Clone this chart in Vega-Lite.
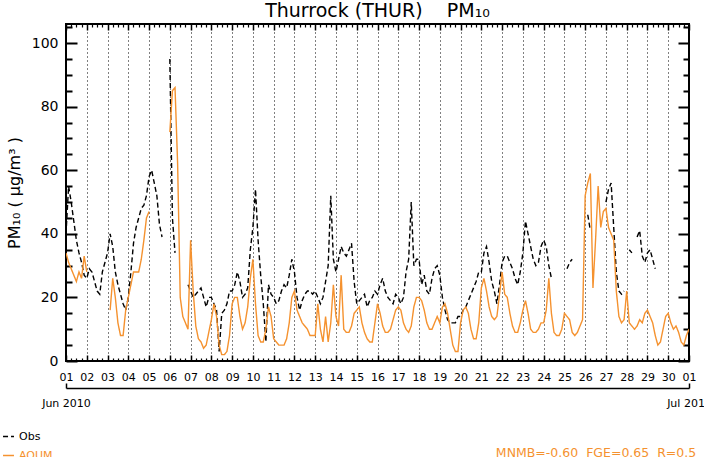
{
"$schema": "https://vega.github.io/schema/vega-lite/v6.json",
"width": 623, "height": 337,
"autosize": {"type": "none"},
"padding": {"left": 66, "top": 24, "right": 15, "bottom": 96},
"background": "white",
"config": {"view": {"stroke": "black", "strokeWidth": 2}, "font": "DejaVu Sans"},
"title": {"text": "Thurrock (THUR)\u00a0\u00a0\u00a0\u00a0PM₁₀", "fontSize": 19, "fontWeight": "normal", "color": "black", "frame": "group", "anchor": "middle", "offset": 3},
"data": {"values": [
{"d":1,"Obs":40,"AQUM":34},{"d":1.125,"Obs":55,"AQUM":31},{"d":1.25,"Obs":50,"AQUM":29},{"d":1.375,"Obs":44,"AQUM":27},{"d":1.5,"Obs":38,"AQUM":25},{"d":1.625,"Obs":34,"AQUM":28},{"d":1.75,"Obs":31,"AQUM":26},{"d":1.875,"Obs":27,"AQUM":33},
{"d":2,"Obs":26,"AQUM":28},{"d":2.125,"Obs":29,"AQUM":null},{"d":2.25,"Obs":28,"AQUM":null},{"d":2.375,"Obs":25,"AQUM":null},{"d":2.5,"Obs":22,"AQUM":null},{"d":2.625,"Obs":21,"AQUM":null},{"d":2.75,"Obs":28,"AQUM":null},{"d":2.875,"Obs":31,"AQUM":null},
{"d":3,"Obs":34,"AQUM":null},{"d":3.125,"Obs":40,"AQUM":16},{"d":3.25,"Obs":36,"AQUM":26},{"d":3.375,"Obs":28,"AQUM":20},{"d":3.5,"Obs":24,"AQUM":12},{"d":3.625,"Obs":21,"AQUM":8},{"d":3.75,"Obs":18,"AQUM":8},{"d":3.875,"Obs":16,"AQUM":16},
{"d":4,"Obs":20,"AQUM":20},{"d":4.125,"Obs":28,"AQUM":24},{"d":4.25,"Obs":37,"AQUM":28},{"d":4.375,"Obs":42,"AQUM":28},{"d":4.5,"Obs":45,"AQUM":28},{"d":4.625,"Obs":48,"AQUM":32},{"d":4.75,"Obs":49,"AQUM":38},{"d":4.875,"Obs":52,"AQUM":45},
{"d":5,"Obs":58,"AQUM":47},{"d":5.125,"Obs":60,"AQUM":null},{"d":5.25,"Obs":56,"AQUM":null},{"d":5.375,"Obs":52,"AQUM":null},{"d":5.5,"Obs":43,"AQUM":null},{"d":5.625,"Obs":39,"AQUM":null},{"d":5.75,"Obs":null,"AQUM":null},{"d":5.875,"Obs":null,"AQUM":null},
{"d":6,"Obs":95,"AQUM":72},{"d":6.125,"Obs":45,"AQUM":85},{"d":6.25,"Obs":34,"AQUM":86},{"d":6.375,"Obs":null,"AQUM":62},{"d":6.5,"Obs":null,"AQUM":20},{"d":6.625,"Obs":null,"AQUM":14},{"d":6.75,"Obs":null,"AQUM":12},{"d":6.875,"Obs":24,"AQUM":10},
{"d":7,"Obs":22,"AQUM":38},{"d":7.125,"Obs":20,"AQUM":22},{"d":7.25,"Obs":21,"AQUM":11},{"d":7.375,"Obs":22,"AQUM":7},{"d":7.5,"Obs":23,"AQUM":6},{"d":7.625,"Obs":20,"AQUM":4},{"d":7.75,"Obs":17,"AQUM":5},{"d":7.875,"Obs":20,"AQUM":9},
{"d":8,"Obs":20,"AQUM":13},{"d":8.125,"Obs":18,"AQUM":18},{"d":8.25,"Obs":16,"AQUM":14},{"d":8.375,"Obs":3,"AQUM":5},{"d":8.5,"Obs":15,"AQUM":2},{"d":8.625,"Obs":16,"AQUM":2},{"d":8.75,"Obs":18,"AQUM":3},{"d":8.875,"Obs":22,"AQUM":8},
{"d":9,"Obs":22,"AQUM":18},{"d":9.125,"Obs":24,"AQUM":20},{"d":9.25,"Obs":28,"AQUM":20},{"d":9.375,"Obs":25,"AQUM":14},{"d":9.5,"Obs":20,"AQUM":10},{"d":9.625,"Obs":21,"AQUM":12},{"d":9.75,"Obs":23,"AQUM":17},{"d":9.875,"Obs":35,"AQUM":26},
{"d":10,"Obs":42,"AQUM":32},{"d":10.125,"Obs":54,"AQUM":18},{"d":10.25,"Obs":38,"AQUM":8},{"d":10.375,"Obs":27,"AQUM":6},{"d":10.5,"Obs":18,"AQUM":6},{"d":10.625,"Obs":6,"AQUM":10},{"d":10.75,"Obs":24,"AQUM":17},{"d":10.875,"Obs":21,"AQUM":14},
{"d":11,"Obs":20,"AQUM":7},{"d":11.125,"Obs":18,"AQUM":6},{"d":11.25,"Obs":19,"AQUM":5},{"d":11.375,"Obs":22,"AQUM":5},{"d":11.5,"Obs":24,"AQUM":5},{"d":11.625,"Obs":23,"AQUM":7},{"d":11.75,"Obs":27,"AQUM":12},{"d":11.875,"Obs":32,"AQUM":20},
{"d":12,"Obs":28,"AQUM":22},{"d":12.125,"Obs":20,"AQUM":16},{"d":12.25,"Obs":16,"AQUM":14},{"d":12.375,"Obs":19,"AQUM":12},{"d":12.5,"Obs":21,"AQUM":11},{"d":12.625,"Obs":22,"AQUM":10},{"d":12.75,"Obs":22,"AQUM":8},{"d":12.875,"Obs":21,"AQUM":8},
{"d":13,"Obs":22,"AQUM":8},{"d":13.125,"Obs":20,"AQUM":18},{"d":13.25,"Obs":18,"AQUM":10},{"d":13.375,"Obs":20,"AQUM":6},{"d":13.5,"Obs":25,"AQUM":14},{"d":13.625,"Obs":30,"AQUM":6},{"d":13.75,"Obs":52,"AQUM":12},{"d":13.875,"Obs":32,"AQUM":24},
{"d":14,"Obs":28,"AQUM":14},{"d":14.125,"Obs":32,"AQUM":11},{"d":14.25,"Obs":36,"AQUM":27},{"d":14.375,"Obs":34,"AQUM":10},{"d":14.5,"Obs":33,"AQUM":9},{"d":14.625,"Obs":35,"AQUM":9},{"d":14.75,"Obs":37,"AQUM":11},{"d":14.875,"Obs":25,"AQUM":15},
{"d":15,"Obs":18,"AQUM":16},{"d":15.125,"Obs":19,"AQUM":17},{"d":15.25,"Obs":20,"AQUM":12},{"d":15.375,"Obs":21,"AQUM":9},{"d":15.5,"Obs":17,"AQUM":7},{"d":15.625,"Obs":19,"AQUM":6},{"d":15.75,"Obs":20,"AQUM":6},{"d":15.875,"Obs":22,"AQUM":12},
{"d":16,"Obs":21,"AQUM":18},{"d":16.125,"Obs":24,"AQUM":15},{"d":16.25,"Obs":26,"AQUM":11},{"d":16.375,"Obs":22,"AQUM":9},{"d":16.5,"Obs":20,"AQUM":9},{"d":16.625,"Obs":19,"AQUM":10},{"d":16.75,"Obs":18,"AQUM":13},{"d":16.875,"Obs":21,"AQUM":16},
{"d":17,"Obs":20,"AQUM":17},{"d":17.125,"Obs":18,"AQUM":16},{"d":17.25,"Obs":20,"AQUM":12},{"d":17.375,"Obs":28,"AQUM":10},{"d":17.5,"Obs":32,"AQUM":9},{"d":17.625,"Obs":50,"AQUM":11},{"d":17.75,"Obs":30,"AQUM":17},{"d":17.875,"Obs":32,"AQUM":20},
{"d":18,"Obs":32,"AQUM":20},{"d":18.125,"Obs":24,"AQUM":19},{"d":18.25,"Obs":27,"AQUM":16},{"d":18.375,"Obs":22,"AQUM":12},{"d":18.5,"Obs":21,"AQUM":10},{"d":18.625,"Obs":26,"AQUM":10},{"d":18.75,"Obs":29,"AQUM":12},{"d":18.875,"Obs":30,"AQUM":14},
{"d":19,"Obs":27,"AQUM":12},{"d":19.125,"Obs":20,"AQUM":17},{"d":19.25,"Obs":16,"AQUM":18},{"d":19.375,"Obs":13,"AQUM":15},{"d":19.5,"Obs":12,"AQUM":10},{"d":19.625,"Obs":12,"AQUM":5},{"d":19.75,"Obs":12,"AQUM":3},{"d":19.875,"Obs":14,"AQUM":3},
{"d":20,"Obs":14,"AQUM":12},{"d":20.125,"Obs":16,"AQUM":16},{"d":20.25,"Obs":17,"AQUM":17},{"d":20.375,"Obs":19,"AQUM":15},{"d":20.5,"Obs":21,"AQUM":10},{"d":20.625,"Obs":23,"AQUM":7},{"d":20.75,"Obs":25,"AQUM":7},{"d":20.875,"Obs":28,"AQUM":12},
{"d":21,"Obs":28,"AQUM":23},{"d":21.125,"Obs":34,"AQUM":26},{"d":21.25,"Obs":36,"AQUM":22},{"d":21.375,"Obs":31,"AQUM":17},{"d":21.5,"Obs":25,"AQUM":14},{"d":21.625,"Obs":22,"AQUM":13},{"d":21.75,"Obs":18,"AQUM":14},{"d":21.875,"Obs":24,"AQUM":21},
{"d":22,"Obs":31,"AQUM":28},{"d":22.125,"Obs":33,"AQUM":21},{"d":22.25,"Obs":33,"AQUM":20},{"d":22.375,"Obs":31,"AQUM":15},{"d":22.5,"Obs":29,"AQUM":11},{"d":22.625,"Obs":26,"AQUM":9},{"d":22.75,"Obs":24,"AQUM":9},{"d":22.875,"Obs":28,"AQUM":12},
{"d":23,"Obs":34,"AQUM":16},{"d":23.125,"Obs":44,"AQUM":19},{"d":23.25,"Obs":40,"AQUM":15},{"d":23.375,"Obs":36,"AQUM":10},{"d":23.5,"Obs":32,"AQUM":9},{"d":23.625,"Obs":30,"AQUM":9},{"d":23.75,"Obs":31,"AQUM":10},{"d":23.875,"Obs":36,"AQUM":12},
{"d":24,"Obs":38,"AQUM":12},{"d":24.125,"Obs":36,"AQUM":16},{"d":24.25,"Obs":30,"AQUM":26},{"d":24.375,"Obs":26,"AQUM":15},{"d":24.5,"Obs":null,"AQUM":9},{"d":24.625,"Obs":null,"AQUM":8},{"d":24.75,"Obs":null,"AQUM":8},{"d":24.875,"Obs":null,"AQUM":10},
{"d":25,"Obs":null,"AQUM":15},{"d":25.125,"Obs":29,"AQUM":14},{"d":25.25,"Obs":31,"AQUM":13},{"d":25.375,"Obs":32,"AQUM":9},{"d":25.5,"Obs":null,"AQUM":8},{"d":25.625,"Obs":null,"AQUM":9},{"d":25.75,"Obs":null,"AQUM":11},{"d":25.875,"Obs":null,"AQUM":13},
{"d":26,"Obs":null,"AQUM":52},{"d":26.125,"Obs":46,"AQUM":56},{"d":26.25,"Obs":41,"AQUM":59},{"d":26.375,"Obs":null,"AQUM":23},{"d":26.5,"Obs":null,"AQUM":38},{"d":26.625,"Obs":null,"AQUM":55},{"d":26.75,"Obs":null,"AQUM":42},{"d":26.875,"Obs":null,"AQUM":47},
{"d":27,"Obs":50,"AQUM":48},{"d":27.125,"Obs":54,"AQUM":42},{"d":27.25,"Obs":56,"AQUM":40},{"d":27.375,"Obs":42,"AQUM":38},{"d":27.5,"Obs":28,"AQUM":22},{"d":27.625,"Obs":22,"AQUM":14},{"d":27.75,"Obs":21,"AQUM":12},{"d":27.875,"Obs":22,"AQUM":13},
{"d":28,"Obs":null,"AQUM":22},{"d":28.125,"Obs":35,"AQUM":12},{"d":28.25,"Obs":34,"AQUM":11},{"d":28.375,"Obs":null,"AQUM":10},{"d":28.5,"Obs":39,"AQUM":11},{"d":28.625,"Obs":41,"AQUM":13},{"d":28.75,"Obs":33,"AQUM":12},{"d":28.875,"Obs":31,"AQUM":15},
{"d":29,"Obs":34,"AQUM":16},{"d":29.125,"Obs":35,"AQUM":14},{"d":29.25,"Obs":32,"AQUM":12},{"d":29.375,"Obs":29,"AQUM":8},{"d":29.5,"Obs":null,"AQUM":5},{"d":29.625,"Obs":null,"AQUM":6},{"d":29.75,"Obs":null,"AQUM":10},{"d":29.875,"Obs":null,"AQUM":14},
{"d":30,"Obs":null,"AQUM":15},{"d":30.125,"Obs":null,"AQUM":12},{"d":30.25,"Obs":null,"AQUM":10},{"d":30.375,"Obs":null,"AQUM":11},{"d":30.5,"Obs":null,"AQUM":9},{"d":30.625,"Obs":null,"AQUM":6},{"d":30.75,"Obs":null,"AQUM":5},{"d":30.875,"Obs":null,"AQUM":8},
{"d":31,"Obs":null,"AQUM":10}
]},
"layer": [
{
 "transform": [{"fold": ["Obs", "AQUM"], "as": ["series", "value"]}],
 "mark": {"type": "line", "strokeWidth": 1.4, "clip": true, "invalid": "break-paths-show-domains"},
 "encoding": {
  "x": {"field": "d", "type": "quantitative", "scale": {"domain": [1, 31], "nice": false, "zero": false},
   "axis": {"orient": "bottom", "title": null,
    "values": [1,2,3,4,5,6,7,8,9,10,11,12,13,14,15,16,17,18,19,20,21,22,23,24,25,26,27,28,29,30,31],
    "labelExpr": "datum.value == 31 ? '01' : (datum.value < 10 ? '0' + datum.value : '' + datum.value)",
    "labelFontSize": 11, "labelColor": "black", "labelFlush": false, "labelOverlap": false, "labelPadding": 10,
    "ticks": false, "domain": false,
    "grid": true, "gridColor": "black", "gridDash": [1, 3], "gridWidth": 1,
    "gridOpacity": {"condition": {"test": "datum.value > 1 && datum.value < 31", "value": 1}, "value": 0}
   }},
  "y": {"field": "value", "type": "quantitative", "scale": {"domain": [0, 106], "nice": false},
   "axis": {"orient": "left", "title": "PM₁₀ ( μg/m³ )", "titleFontSize": 16, "titleFontWeight": "normal", "titleColor": "black", "titlePadding": 9,
    "values": [0,20,40,60,80,100],
    "labelFontSize": 14, "labelColor": "black", "labelPadding": 8, "labelFlush": false, "labelOverlap": false,
    "ticks": false, "domain": false,
    "grid": true, "gridColor": "black", "gridWidth": 2, "gridDash": [11, 601, 11, 2000]
   }},
  "color": {"field": "series", "type": "nominal", "scale": {"domain": ["Obs", "AQUM"], "range": ["#000000", "#f5922f"]},
   "legend": {"title": null, "orient": "none", "legendX": -64, "legendY": 406, "direction": "vertical", "symbolType": "stroke", "symbolStrokeWidth": 1.5, "symbolSize": 120, "labelFontSize": 11, "rowPadding": 7,
    "encode": {"labels": {"update": {"fill": {"signal": "datum.value === 'AQUM' ? '#f5922f' : '#000000'"}}}}}},
  "strokeDash": {"field": "series", "type": "nominal", "scale": {"domain": ["Obs", "AQUM"], "range": [[5, 3], [1, 0]]},
   "legend": {"title": null, "orient": "none", "legendX": -64, "legendY": 406, "direction": "vertical", "symbolType": "stroke", "symbolStrokeWidth": 1.5, "symbolSize": 120, "labelFontSize": 11, "rowPadding": 7,
    "encode": {"labels": {"update": {"fill": {"signal": "datum.value === 'AQUM' ? '#f5922f' : '#000000'"}}}}}}
 }
},
{
 "mark": {"type": "point", "opacity": 0},
 "encoding": {
  "x": {"field": "d", "type": "quantitative", "scale": {"domain": [1, 31], "nice": false, "zero": false},
   "axis": {"orient": "bottom", "title": null, "labels": false, "domain": false, "ticks": false,
    "values": [1,2,3,4,5,6,7,8,9,10,11,12,13,14,15,16,17,18,19,20,21,22,23,24,25,26,27,28,29,30,31],
    "grid": true, "gridColor": "black", "gridWidth": 1.5, "gridDash": [6, 325, 6, 2000]}},
  "y": {"field": "Obs", "type": "quantitative", "scale": {"domain": [0, 106], "nice": false},
   "axis": {"orient": "left", "title": null, "labels": false, "domain": false, "ticks": false,
    "values": [5,10,15,25,30,35,45,50,55,65,70,75,85,90,95,105],
    "grid": true, "gridColor": "black", "gridWidth": 2, "gridDash": [6, 611, 6, 2000]}}
 }
},
{
 "mark": {"type": "point", "opacity": 0},
 "encoding": {
  "x": {"field": "d", "type": "quantitative", "scale": {"domain": [1, 31], "nice": false, "zero": false},
   "axis": {"orient": "bottom", "title": null, "labels": false, "domain": false, "ticks": false,
    "values": [1.25,1.5,1.75,2.25,2.5,2.75,3.25,3.5,3.75,4.25,4.5,4.75,5.25,5.5,5.75,6.25,6.5,6.75,7.25,7.5,7.75,8.25,8.5,8.75,9.25,9.5,9.75,10.25,10.5,10.75,11.25,11.5,11.75,12.25,12.5,12.75,13.25,13.5,13.75,14.25,14.5,14.75,15.25,15.5,15.75,16.25,16.5,16.75,17.25,17.5,17.75,18.25,18.5,18.75,19.25,19.5,19.75,20.25,20.5,20.75,21.25,21.5,21.75,22.25,22.5,22.75,23.25,23.5,23.75,24.25,24.5,24.75,25.25,25.5,25.75,26.25,26.5,26.75,27.25,27.5,27.75,28.25,28.5,28.75,29.25,29.5,29.75,30.25,30.5,30.75],
    "grid": true, "gridColor": "black", "gridWidth": 1.2, "gridDash": [3, 331, 3, 2000]}},
  "y": {"field": "Obs", "type": "quantitative", "scale": {"domain": [0, 106], "nice": false}, "axis": null}
 }
},
{
 "mark": {"type": "point", "opacity": 0},
 "encoding": {
  "x": {"field": "d", "type": "quantitative", "scale": {"domain": [1, 31], "nice": false, "zero": false},
   "axis": {"orient": "bottom", "offset": 27, "title": null, "values": [1, 31],
    "labelExpr": "datum.value == 1 ? 'Jun 2010' : 'Jul 2010'",
    "labelFontSize": 11, "labelColor": "black", "labelFlush": false, "labelOverlap": false, "labelPadding": 14,
    "tickSize": -5, "tickColor": "black", "tickWidth": 1.5, "domain": true, "domainColor": "black", "domainWidth": 1.5, "grid": false}},
  "y": {"field": "Obs", "type": "quantitative", "scale": {"domain": [0, 106], "nice": false}, "axis": null}
 }
},
{
 "data": {"values": [{"label": "MNMB=-0.60\u00a0\u00a0FGE=0.65\u00a0\u00a0R=0.5"}]},
 "mark": {"type": "text", "align": "left", "baseline": "middle", "fontSize": 12.5, "color": "#f5922f"},
 "encoding": {
  "text": {"field": "label"},
  "x": {"datum": 21.7, "type": "quantitative", "scale": {"domain": [1, 31], "nice": false, "zero": false}, "axis": null},
  "y": {"datum": -29, "type": "quantitative", "scale": {"domain": [0, 106], "nice": false}, "axis": null}
 }
}
],
"resolve": {"axis": {"x": "independent", "y": "independent"}}
}
